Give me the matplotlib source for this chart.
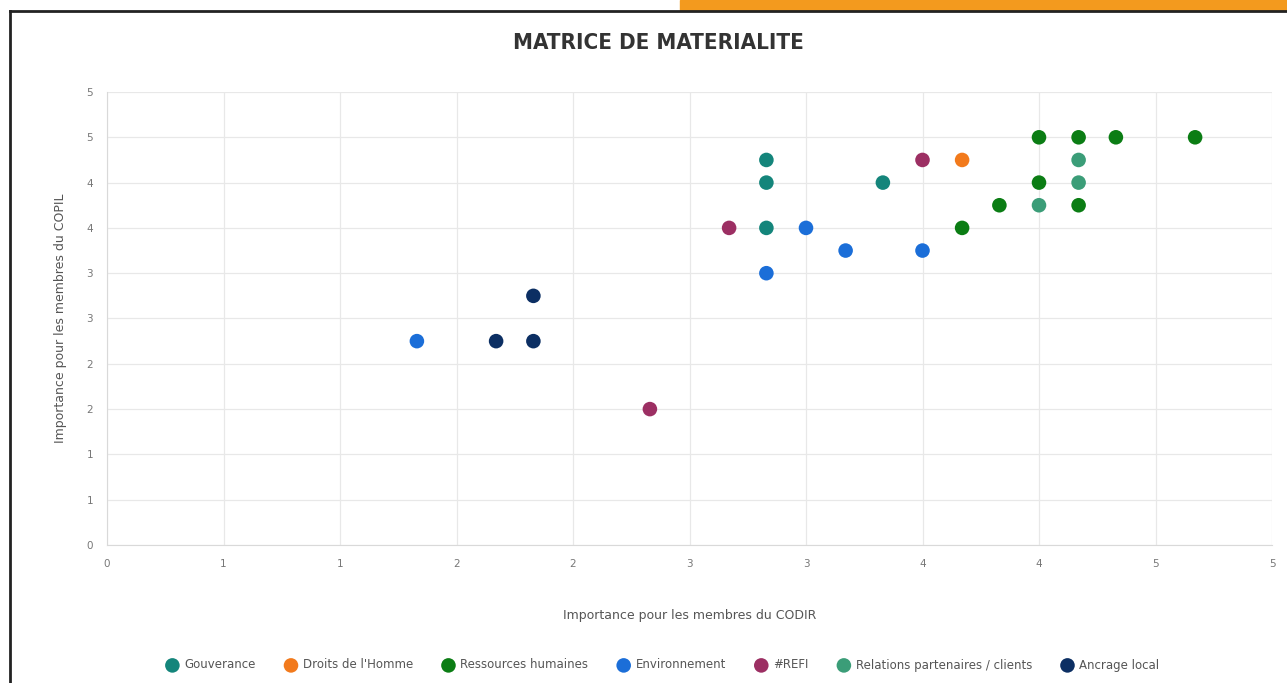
import matplotlib.pyplot as plt
from matplotlib.patches import Rectangle
from matplotlib.lines import Line2D
import numpy as np

# data: (CODIR, COPIL) scores per theme
categories = ["Gouverance", "Droits de l'Homme", "Ressources humaines", "Environnement",
              "#REFI", "Relations partenaires / clients", "Ancrage local"]
colors = ["#14857b", "#f27a1c", "#0b7d14", "#1b6ed8", "#9c2f63", "#3b9d78", "#0c2f63"]

gouv_x = [2.83, 2.83, 2.83, 3.33]
gouv_y = [4.25, 4.0, 3.5, 4.0]
droits_x = [3.67]
droits_y = [4.25]
rh_x = [4.0, 4.17, 4.33, 4.67, 4.0, 4.17, 3.83, 3.67]
rh_y = [4.5, 4.5, 4.5, 4.5, 4.0, 3.75, 3.75, 3.5]
env_x = [1.33, 2.83, 3.0, 3.17, 3.5]
env_y = [2.25, 3.0, 3.5, 3.25, 3.25]
refi_x = [3.5, 2.67, 2.33]
refi_y = [4.25, 3.5, 1.5]
rel_x = [4.17, 4.17, 4.0]
rel_y = [4.25, 4.0, 3.75]
anc_x = [1.83, 1.67, 1.83]
anc_y = [2.75, 2.25, 2.25]

series_x = [gouv_x, droits_x, rh_x, env_x, refi_x, rel_x, anc_x]
series_y = [gouv_y, droits_y, rh_y, env_y, refi_y, rel_y, anc_y]

ticks = np.arange(0, 5.01, 0.5)
tick_labels = ["0", "1", "1", "2", "2", "3", "3", "4", "4", "5", "5"]

fig = plt.figure(figsize=(12.87, 6.83), dpi=100)
fig.patch.set_facecolor("white")

# screenshot frame: orange strip + dark border
fig.patches.append(Rectangle((680 / 1287, 1 - 10 / 683), 607 / 1287, 10 / 683,
                             transform=fig.transFigure, color="#f39a1e", zorder=0))
fig.add_artist(Line2D([10 / 1287, 1], [1 - 11 / 683, 1 - 11 / 683], transform=fig.transFigure,
                      color="#222222", lw=2))
fig.add_artist(Line2D([10 / 1287, 10 / 1287], [0, 1 - 11 / 683], transform=fig.transFigure,
                      color="#222222", lw=2))

ax = fig.add_axes([107 / 1287, 138 / 683, 1165 / 1287, 453 / 683])
for xs, ys, c, name in zip(series_x, series_y, colors, categories):
    ax.scatter(xs, ys, s=110, color=c, label=name, zorder=3, edgecolors="none")

ax.set_xlim(0, 5)
ax.set_ylim(0, 5)
ax.set_xticks(ticks)
ax.set_yticks(ticks)
ax.set_xticklabels(tick_labels)
ax.set_yticklabels(tick_labels)
ax.tick_params(length=0, labelsize=7.5, colors="#777777", pad=10)
ax.grid(True, color="#e8e8e8", lw=0.9, zorder=0)
for side in ["top", "right"]:
    ax.spines[side].set_visible(False)
for side in ["left", "bottom"]:
    ax.spines[side].set_color("#d9d9d9")

ax.set_xlabel("Importance pour les membres du CODIR", fontsize=9, color="#555555", labelpad=29)
ax.set_ylabel("Importance pour les membres du COPIL", fontsize=9, color="#555555", labelpad=14)

fig.text(658 / 1287, 1 - 43 / 683, "MATRICE DE MATERIALITE", ha="center", va="center",
         fontsize=16, fontweight="bold", color="#333333", fontstretch="condensed")

fig.legend(loc="center", bbox_to_anchor=(660 / 1287, 1 - 665 / 683), ncol=7, frameon=False,
           fontsize=8.5, labelcolor="#555555", handletextpad=0.0, columnspacing=2.0,
           markerscale=1.0, scatterpoints=1)

fig.savefig("out.png", dpi=100)
